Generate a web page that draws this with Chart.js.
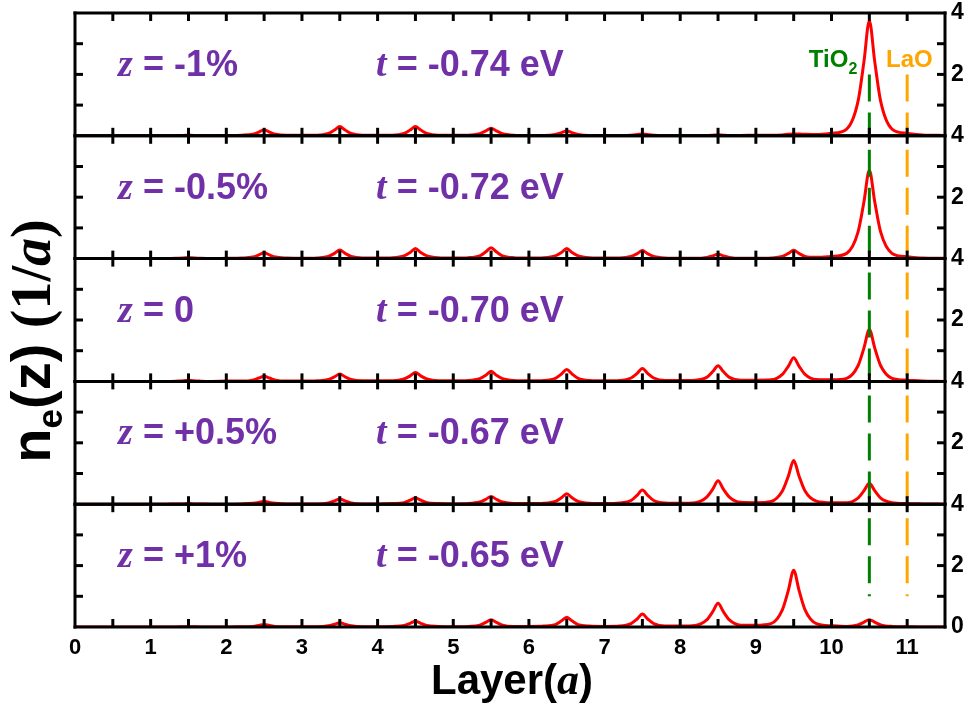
<!DOCTYPE html>
<html><head><meta charset="utf-8">
<script src="https://cdn.jsdelivr.net/npm/chart.js@4/dist/chart.umd.min.js"></script>
<style>html,body{margin:0;padding:0;background:#fff;}canvas{display:block}</style>
</head><body>
<canvas id="c" width="969" height="709"></canvas>
<script>
// sample positions along the layer axis (units of a)
const layerX = [
0,0.2,0.35,0.43,0.5,0.57,0.65,0.8,
1,1.2,1.35,1.43,1.5,1.57,1.65,1.8,
2,2.2,2.35,2.43,2.5,2.57,2.65,2.8,
3,3.2,3.35,3.43,3.5,3.57,3.65,3.8,
4,4.2,4.35,4.43,4.5,4.57,4.65,4.8,
5,5.2,5.35,5.43,5.5,5.57,5.65,5.8,
6,6.2,6.35,6.43,6.5,6.57,6.65,6.8,
7,7.2,7.35,7.43,7.5,7.57,7.65,7.8,
8,8.2,8.35,8.43,8.5,8.57,8.65,8.8,
9,9.2,9.35,9.43,9.5,9.57,9.65,9.8,
10,10.2,10.35,10.43,10.5,10.57,10.65,10.8,
11,11.2,11.5];

// n_e(z) for z = -1%
const neZm1 = [
0,0,0,0,0,0,0,0,
0,0,0.01,0.01,0.02,0.01,0.01,0,
0.01,0.02,0.05,0.12,0.2,0.12,0.05,0.02,
0.02,0.02,0.08,0.19,0.3,0.19,0.08,0.02,
0.02,0.02,0.08,0.19,0.3,0.19,0.08,0.02,
0.02,0.02,0.07,0.16,0.25,0.16,0.07,0.02,
0.01,0.01,0.04,0.1,0.16,0.1,0.04,0.01,
0.01,0,0.02,0.04,0.06,0.04,0.02,0,
0,0,0.01,0.02,0.03,0.02,0.01,0.01,
0.02,0.02,0.03,0.05,0.06,0.06,0.05,0.04,
0.08,0.22,1.12,2.44,3.75,2.44,1.12,0.22,
0.08,0.03,0.01];
// z = -0.5%
const neZm05 = [
0,0,0,0,0,0,0,0,
0,0,0.01,0.02,0.03,0.02,0.01,0,
0.01,0.02,0.05,0.12,0.19,0.12,0.05,0.02,
0.01,0.02,0.07,0.17,0.28,0.17,0.07,0.02,
0.02,0.03,0.09,0.2,0.33,0.2,0.09,0.03,
0.02,0.03,0.09,0.22,0.35,0.22,0.09,0.03,
0.02,0.03,0.09,0.2,0.33,0.2,0.09,0.03,
0.02,0.02,0.07,0.16,0.26,0.16,0.07,0.02,
0.01,0.01,0.04,0.09,0.14,0.09,0.04,0.01,
0.01,0.02,0.07,0.17,0.27,0.17,0.07,0.04,
0.07,0.17,0.86,1.87,2.88,1.87,0.86,0.17,
0.06,0.02,0.01];
// z = 0
const neZ0 = [
0,0,0,0,0,0,0,0,
0,0,0.01,0.02,0.04,0.02,0.01,0,
0.01,0.01,0.04,0.11,0.17,0.11,0.04,0.01,
0.01,0.02,0.06,0.15,0.24,0.15,0.06,0.02,
0.02,0.02,0.08,0.18,0.29,0.18,0.08,0.02,
0.02,0.03,0.09,0.2,0.33,0.2,0.09,0.03,
0.02,0.03,0.1,0.24,0.39,0.24,0.1,0.03,
0.02,0.03,0.11,0.26,0.42,0.26,0.11,0.03,
0.03,0.04,0.13,0.32,0.51,0.32,0.13,0.04,
0.04,0.05,0.23,0.5,0.77,0.5,0.23,0.06,
0.05,0.1,0.51,1.1,1.69,1.1,0.51,0.1,
0.04,0.01,0];
// z = +0.5%
const neZp05 = [
0,0,0,0,0,0,0,0,
0,0,0.01,0.01,0.02,0.01,0.01,0,
0,0.01,0.03,0.06,0.1,0.06,0.03,0.01,
0.01,0.01,0.04,0.11,0.17,0.11,0.04,0.01,
0.01,0.02,0.05,0.13,0.21,0.13,0.05,0.02,
0.01,0.02,0.07,0.16,0.25,0.16,0.07,0.02,
0.02,0.03,0.09,0.21,0.34,0.21,0.09,0.03,
0.02,0.04,0.12,0.29,0.46,0.29,0.12,0.04,
0.03,0.05,0.23,0.49,0.76,0.49,0.23,0.06,
0.05,0.09,0.43,0.92,1.42,0.92,0.43,0.1,
0.05,0.05,0.2,0.44,0.68,0.44,0.2,0.05,
0.02,0.01,0];
// z = +1%
const neZp1 = [
0,0,0,0,0,0,0,0,
0,0,0,0.01,0.01,0.01,0,0,
0,0.01,0.02,0.05,0.08,0.05,0.02,0.01,
0.01,0.01,0.04,0.09,0.14,0.09,0.04,0.01,
0.01,0.02,0.05,0.12,0.19,0.12,0.05,0.02,
0.01,0.02,0.06,0.15,0.24,0.15,0.06,0.02,
0.02,0.03,0.08,0.2,0.32,0.2,0.08,0.03,
0.02,0.03,0.11,0.26,0.42,0.26,0.11,0.03,
0.03,0.05,0.23,0.5,0.77,0.5,0.23,0.06,
0.06,0.11,0.56,1.2,1.85,1.2,0.56,0.11,
0.04,0.02,0.07,0.16,0.24,0.16,0.07,0.02,
0.01,0,0];

const panelSeries = [neZm1, neZm05, neZ0, neZp05, neZp1];
const panelZ = ['-1%', '-0.5%', '0', '+0.5%', '+1%'];
const panelT = ['-0.74 eV', '-0.72 eV', '-0.70 eV', '-0.67 eV', '-0.65 eV'];
const xTickLabels = [0,1,2,3,4,5,6,7,8,9,10,11];
const xTickMarks = [0.5,1,1.5,2,2.5,3,3.5,4,4.5,5,5.5,6,6.5,7,7.5,8,8.5,9,9.5,10,10.5,11];
const yTickLabels = [0,2,4];
const yTickMarks = [1,2,3];
// interface markers: TiO2 at 10.5, LaO at 11; dashed line extent per panel (y from, y to)
const tio2Layer = 10.5, laoLayer = 11;
const markerTop = [2,4,4,4,4];
const markerBottom = [0,0,0,0,1];

const axisIds = ['y0','y1','y2','y3','y4'];
const PURPLE = '#7030A8', GREEN = '#008000', ORANGE = '#FFA500';
const SANS = '"Liberation Sans", Arial, sans-serif';
const SERIF = '"Liberation Serif", "Times New Roman", serif';

const datasets = [];
axisIds.forEach((id, i) => {
  datasets.push({
    data: [{x: tio2Layer, y: markerTop[i]}, {x: tio2Layer, y: markerBottom[i]}],
    yAxisID: id, xAxisID: 'x', borderColor: GREEN, borderWidth: 3,
    borderDash: [27, 11], borderDashOffset: i === 0 ? 0 : 24, pointRadius: 0, order: 0
  });
  datasets.push({
    data: [{x: laoLayer, y: markerTop[i]}, {x: laoLayer, y: markerBottom[i]}],
    yAxisID: id, xAxisID: 'x', borderColor: ORANGE, borderWidth: 3,
    borderDash: [27, 11], borderDashOffset: i === 0 ? 0 : 24, pointRadius: 0, order: 0
  });
});
panelSeries.forEach((arr, i) => {
  datasets.push({
    data: layerX.map((x, k) => ({x, y: arr[k]})),
    yAxisID: axisIds[i], xAxisID: 'x', borderColor: '#FF0000', borderWidth: 3,
    pointRadius: 0, cubicInterpolationMode: 'monotone', order: 1
  });
});

const scales = {
  x: {
    type: 'linear', position: 'bottom', min: 0, max: 11.5,
    grid: {display: false, drawTicks: false}, border: {display: false},
    afterBuildTicks: s => { s.ticks = xTickLabels.map(v => ({value: v})); },
    afterFit: s => { s.height = 82; s.paddingLeft = 0; s.paddingRight = 0; },
    ticks: {color: '#000', font: {family: SANS, weight: 'bold', size: 22}, padding: 8,
            maxRotation: 0, autoSkip: false}
  }
};
axisIds.forEach((id, i) => {
  scales[id] = {
    type: 'linear', position: 'right', stack: 'panels', stackWeight: 1, min: 0, max: 4,
    grid: {display: false, drawTicks: false}, border: {display: false},
    afterBuildTicks: s => {
      s.ticks = yTickLabels.filter(v => v !== 0 || i === axisIds.length - 1).map(v => ({value: v}));
    },
    afterFit: s => { s.width = 24; s.paddingTop = 0; s.paddingBottom = 0; },
    ticks: {color: '#000', font: {family: SANS, weight: 'bold', size: 23}, padding: 6}
  };
});

function line(ctx, x1, y1, x2, y2) { ctx.beginPath(); ctx.moveTo(x1, y1); ctx.lineTo(x2, y2); ctx.stroke(); }
function runs(ctx, x, y, parts) {
  let cx = x;
  parts.forEach(p => {
    ctx.font = p.font; ctx.fillStyle = p.color;
    ctx.fillText(p.text, cx, y + (p.dy || 0));
    cx += ctx.measureText(p.text).width;
  });
  return cx;
}
function runsWidth(ctx, parts) {
  let w = 0;
  parts.forEach(p => { ctx.font = p.font; w += ctx.measureText(p.text).width; });
  return w;
}

const framePlugin = {
  id: 'frame',
  afterDatasetsDraw(chart) {
    const ctx = chart.ctx, xs = chart.scales.x;
    const {left, right, top, bottom} = chart.chartArea;
    ctx.save();
    ctx.strokeStyle = '#000'; ctx.lineWidth = 3; ctx.lineCap = 'butt';
    const T = 8;
    axisIds.forEach(id => {
      const ys = chart.scales[id];
      const yb = ys.getPixelForValue(0), yt = ys.getPixelForValue(4);
      line(ctx, left - 1.5, yb, right + 1.5, yb);
      line(ctx, left - 1.5, yt, right + 1.5, yt);
      yTickMarks.forEach(v => {
        const py = ys.getPixelForValue(v);
        line(ctx, left, py, left + T, py);
        line(ctx, right - T, py, right, py);
      });
      xTickMarks.forEach(v => {
        const px = xs.getPixelForValue(v);
        line(ctx, px, yb, px, yb - T);
        line(ctx, px, yt, px, yt + T);
      });
    });
    line(ctx, left, top - 1.5, left, bottom + 1.5);
    line(ctx, right, top - 1.5, right, bottom + 1.5);
    ctx.restore();
  },
  afterDraw(chart) {
    const ctx = chart.ctx, xs = chart.scales.x;
    ctx.save();
    ctx.textBaseline = 'alphabetic'; ctx.textAlign = 'left';
    // panel annotations
    axisIds.forEach((id, i) => {
      const ys = chart.scales[id];
      const by = ys.getPixelForValue(1.95);
      runs(ctx, xs.getPixelForValue(0.57), by, [
        {text: 'z', font: `italic bold 38px ${SERIF}`, color: PURPLE},
        {text: ' = ' + panelZ[i], font: `bold 36px ${SANS}`, color: PURPLE}
      ]);
      runs(ctx, xs.getPixelForValue(3.98), by, [
        {text: 't', font: `italic bold 38px ${SERIF}`, color: PURPLE},
        {text: ' = ' + panelT[i], font: `bold 36px ${SANS}`, color: PURPLE}
      ]);
    });
    // interface labels
    const y0 = chart.scales.y0;
    const ly = y0.getPixelForValue(2.25);
    runs(ctx, xs.getPixelForValue(9.70), ly, [
      {text: 'TiO', font: `bold 24px ${SANS}`, color: GREEN},
      {text: '2', font: `bold 16px ${SANS}`, color: GREEN, dy: 7}
    ]);
    runs(ctx, xs.getPixelForValue(10.72), ly, [
      {text: 'LaO', font: `bold 24px ${SANS}`, color: ORANGE}
    ]);
    // x-axis title
    const xt = [
      {text: 'Layer(', font: `bold 42px ${SANS}`, color: '#000'},
      {text: 'a', font: `italic bold 44px ${SERIF}`, color: '#000'},
      {text: ')', font: `bold 42px ${SANS}`, color: '#000'}
    ];
    const xw = runsWidth(ctx, xt);
    runs(ctx, (chart.chartArea.left + chart.chartArea.right) / 2 - xw / 2 + 2, 694, xt);
    // y-axis title (rotated)
    const yt = [
      {text: 'n', font: `bold 56px ${SANS}`, color: '#000'},
      {text: 'e', font: `bold 35px ${SANS}`, color: '#000', dy: 12},
      {text: '(z) ', font: `bold 56px ${SANS}`, color: '#000'},
      {text: '(1/', font: `bold 56px ${SERIF}`, color: '#000'},
      {text: 'a', font: `italic bold 56px ${SERIF}`, color: '#000'},
      {text: ')', font: `bold 56px ${SERIF}`, color: '#000'}
    ];
    const yw = runsWidth(ctx, yt);
    ctx.translate(50, 341);
    ctx.rotate(-Math.PI / 2);
    runs(ctx, -yw / 2, 0, yt);
    ctx.restore();
  }
};

new Chart(document.getElementById('c'), {
  type: 'line',
  data: {datasets},
  options: {
    responsive: false, animation: false, devicePixelRatio: 1,
    layout: {padding: {left: 75, top: 13, right: 0, bottom: 0}},
    plugins: {legend: {display: false}, tooltip: {enabled: false}},
    scales
  },
  plugins: [framePlugin]
});
</script>
</body></html>
